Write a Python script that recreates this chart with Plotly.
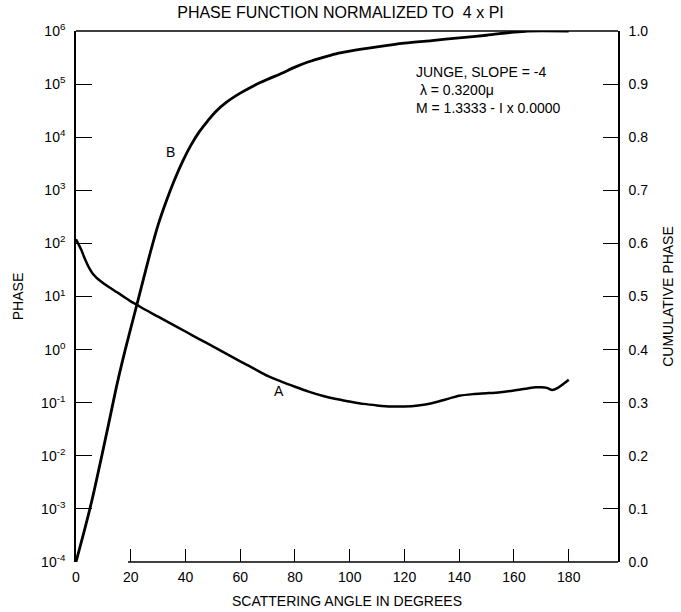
import plotly.graph_objects as go

# Curve A: phase function (left log axis)
angle_a = [0, 1, 2, 3, 4, 5, 6, 7, 8, 10, 12, 15, 18, 20, 22, 25, 30, 35, 40, 45, 50,
           55, 60, 65, 70, 75, 80, 85, 90, 95, 100, 105, 110, 115, 120, 125, 130,
           135, 140, 145, 150, 155, 160, 165, 168, 170, 172, 174, 176, 178, 180]
phase_a = [120, 95, 74, 55, 42, 33, 27.5, 24, 21.4, 17.8, 15.1, 12.0, 9.5, 8.1, 7.1,
           5.75, 4.17, 3.02, 2.19, 1.58, 1.15, 0.83, 0.60, 0.44, 0.32, 0.25, 0.20,
           0.162, 0.135, 0.117, 0.105, 0.095, 0.089, 0.085, 0.085, 0.089, 0.098,
           0.115, 0.135, 0.145, 0.151, 0.158, 0.17, 0.186, 0.195, 0.195, 0.19,
           0.174, 0.19, 0.224, 0.27]

# Curve B: cumulative phase (right linear axis)
angle_b = [0, 3, 6, 9, 12, 15, 18, 21, 24, 27, 30, 33, 36, 39, 42, 45, 48, 51, 55,
           60, 65, 70, 75, 80, 85, 90, 95, 100, 110, 120, 130, 140, 150, 160, 165, 180]
cum_b = [0.0, 0.058, 0.12, 0.19, 0.262, 0.335, 0.40, 0.46, 0.52, 0.58, 0.635, 0.68,
         0.72, 0.755, 0.785, 0.81, 0.83, 0.848, 0.866, 0.883, 0.897, 0.909, 0.920,
         0.932, 0.942, 0.950, 0.957, 0.962, 0.970, 0.977, 0.982, 0.987, 0.992,
         0.998, 1.0, 1.0]

x_ticks = [0, 20, 40, 60, 80, 100, 120, 140, 160, 180]
left_exps = [-4, -3, -2, -1, 0, 1, 2, 3, 4, 5, 6]
right_ticks = [0.0, 0.1, 0.2, 0.3, 0.4, 0.5, 0.6, 0.7, 0.8, 0.9, 1.0]

FONT = "Liberation Sans, Arial, sans-serif"

fig = go.Figure()
fig.add_trace(go.Scatter(x=angle_a, y=phase_a, mode="lines", yaxis="y",
                         line=dict(color="black", width=2.5, shape="spline", smoothing=0.8),
                         showlegend=False, name="A"))
fig.add_trace(go.Scatter(x=angle_b, y=cum_b, mode="lines", yaxis="y2",
                         line=dict(color="black", width=2.8, shape="spline", smoothing=0.8),
                         showlegend=False, name="B"))

fig.update_layout(
    width=681, height=612,
    margin=dict(l=76, r=63, t=31, b=50, autoexpand=False),
    paper_bgcolor="white", plot_bgcolor="white",
    font=dict(family=FONT, color="black", size=14),
    title=dict(text="PHASE FUNCTION NORMALIZED TO  4 x PI", x=0.5, xanchor="center",
               y=1 - 12 / 612, yanchor="middle", font=dict(size=16)),
    xaxis=dict(range=[0, 198], tickvals=x_ticks, ticktext=[str(v) for v in x_ticks],
               ticks="inside", ticklen=13, tickwidth=1.3, tickcolor="black",
               ticklabelstandoff=5, automargin=False,
               showline=False, showgrid=False, zeroline=False,
               title=dict(text="SCATTERING ANGLE IN DEGREES", standoff=12,
                          font=dict(size=14)),
               tickfont=dict(size=14)),
    yaxis=dict(type="log", range=[-4, 6],
               tickvals=[10.0 ** e for e in left_exps],
               ticktext=["10<sup>%d</sup>" % e for e in left_exps],
               ticks="inside", ticklen=16, tickwidth=1.3, tickcolor="black",
               ticklabelstandoff=6, automargin=False,
               showline=True, linecolor="black", linewidth=1.6,
               showgrid=False, zeroline=False,
               title=dict(text="PHASE", standoff=14, font=dict(size=14)),
               tickfont=dict(size=14)),
    yaxis2=dict(range=[0, 1], overlaying="y", side="right",
                tickvals=right_ticks, ticktext=["%.1f" % v for v in right_ticks],
                ticks="inside", ticklen=15, tickwidth=1.3, tickcolor="black",
                ticklabelstandoff=6, automargin=False,
                showline=True, linecolor="black", linewidth=1.6,
                showgrid=False, zeroline=False,
                title=dict(text="CUMULATIVE PHASE", standoff=16, font=dict(size=14)),
                tickfont=dict(size=14)),
)

# frame lines: top border and bottom axis (which starts near 20 deg in the original)
fig.add_shape(type="line", xref="paper", yref="paper", x0=0, x1=1, y0=1, y1=1,
              line=dict(color="black", width=1.3))
fig.add_shape(type="line", xref="x", yref="paper", x0=19, x1=198, y0=0, y1=0,
              line=dict(color="black", width=1.3))

# curve labels
fig.add_annotation(x=34.5, y=0.772, xref="x", yref="y2", text="B", showarrow=False,
                   font=dict(size=14))
fig.add_annotation(x=74.3, y=0.322, xref="x", yref="y2", text="A", showarrow=False,
                   font=dict(size=14))

# parameter text block
fig.add_annotation(x=123.3, y=0.889, xref="x", yref="y2", xanchor="left",
                   yanchor="middle", align="left",
                   text="JUNGE, SLOPE = -4<br>\u00a0λ = 0.3200μ<br>M = 1.3333 - I x 0.0000",
                   showarrow=False, font=dict(size=14))

fig.write_html("out.html")
